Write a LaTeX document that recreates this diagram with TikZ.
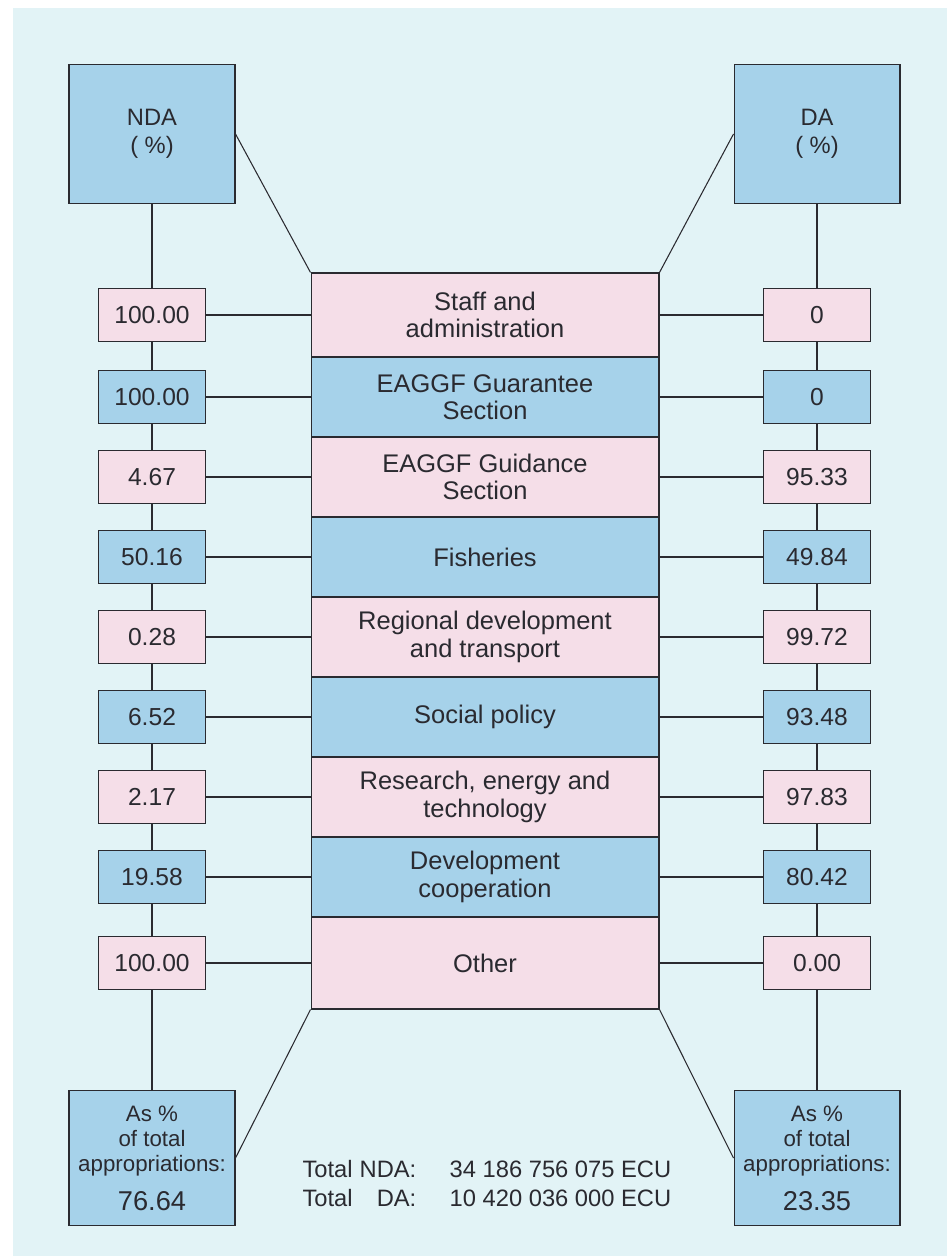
\documentclass[tikz,border=0pt]{standalone}
\usepackage{fontspec}
\setmainfont{Liberation Sans}
\usepackage{xcolor}
\definecolor{bgcyan}{RGB}{226,243,246}
\definecolor{bblue}{RGB}{166,210,234}
\definecolor{bpink}{RGB}{245,222,232}
\definecolor{ink}{RGB}{42,42,48}

\begin{document}
\begin{tikzpicture}[x=0.02cm,y=-0.02cm,line width=0.6pt,
  every node/.style={text=ink},
  headbox/.style={draw=ink,fill=bblue,minimum width=3.32cm,minimum height=2.78cm,
    inner sep=0pt,align=center,font=\fontsize{13.5}{16}\selectfont},
  totbox/.style={headbox,minimum height=2.7cm,font=\fontsize{12.7}{14.2}\selectfont},
  valbox/.style={draw=ink,minimum width=2.14cm,minimum height=1.06cm,inner sep=0pt,
    font=\fontsize{14}{17}\selectfont},
  catbox/.style={draw=ink,minimum width=6.96cm,inner sep=0pt,align=center,
    font=\fontsize{14.5}{15.5}\selectfont},
  link/.style={draw=ink,line width=0.6pt}]
  \useasboundingbox (0,0) rectangle (947,1256);
  \fill[white] (0,0) rectangle (947,1256);
  \fill[bgcyan] (13,8) rectangle (947,1256);

  % headers
  \node[headbox] (ndahead) at (152,134) {NDA\\( \%)};
  \node[headbox] (dahead) at (817,134) {DA\\( \%)};

  % one row per heading
  \foreach \i/\y/\h/\c/\txt/\lval/\rval in {
    1/315/1.68/bpink/{Staff and\\administration}/100.00/0,
    2/397/1.6/bblue/{EAGGF Guarantee\\Section}/100.00/0,
    3/477/1.6/bpink/{EAGGF Guidance\\Section}/4.67/95.33,
    4/557/1.6/bblue/{Fisheries}/50.16/49.84,
    5/637/1.6/bpink/{Regional development\\and transport}/0.28/99.72,
    6/717/1.6/bblue/{Social policy}/6.52/93.48,
    7/797/1.6/bpink/{Research, energy and\\technology}/2.17/97.83,
    8/877/1.6/bblue/{Development\\cooperation}/19.58/80.42,
    9/963/1.84/bpink/{Other}/100.00/0.00}
  {
    \node[catbox,fill=\c,minimum height=\h cm] (cat\i) at (485,\y) {\txt};
    \node[valbox,fill=\c] (nda\i) at (152,\y) {\lval};
    \node[valbox,fill=\c] (da\i) at (817,\y) {\rval};
    \draw[link] (nda\i) -- (cat\i);
    \draw[link] (cat\i) -- (da\i);
  }

  % totals as share
  \node[totbox] (ndatot) at (152,1158) {As \%\\of total\\appropriations:\\[8pt]{\fontsize{15.5}{14.2}\selectfont 76.64}};
  \node[totbox] (datot) at (817,1158) {As \%\\of total\\appropriations:\\[8pt]{\fontsize{15.5}{14.2}\selectfont 23.35}};

  \draw[link] (ndahead) -- (nda1) -- (nda2) -- (nda3) -- (nda4) -- (nda5)
    -- (nda6) -- (nda7) -- (nda8) -- (nda9) -- (ndatot);
  \draw[link] (dahead) -- (da1) -- (da2) -- (da3) -- (da4) -- (da5)
    -- (da6) -- (da7) -- (da8) -- (da9) -- (datot);
  \draw[link] (ndahead.east) -- (cat1.north west);
  \draw[link] (dahead.west) -- (cat1.north east);
  \draw[link] (cat9.south west) -- (ndatot.east);
  \draw[link] (cat9.south east) -- (datot.west);

  \node[anchor=west,inner sep=0pt,font=\fontsize{13.5}{16.4}\selectfont] (totals) at (302,1186)
    {\begin{tabular}{@{}l@{\hspace{4pt}}r@{\hspace{19pt}}l@{}}
      Total & NDA: & 34 186 756 075 ECU\\
      Total & DA: & 10 420 036 000 ECU
    \end{tabular}};
\end{tikzpicture}
\end{document}
